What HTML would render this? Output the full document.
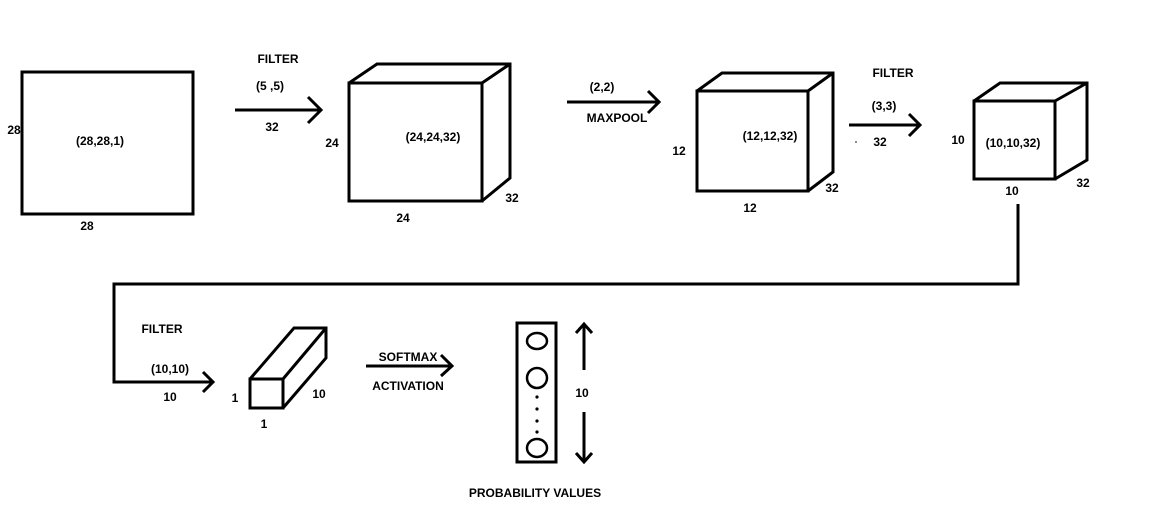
<!DOCTYPE html>
<html><head><style>
html,body{margin:0;padding:0;background:#fff;}
svg text{font-family:"Liberation Sans",Arial,sans-serif;font-weight:bold;font-size:12px;fill:#000;text-anchor:middle;}
</style></head><body>
<svg width="1158" height="525" viewBox="0 0 1158 525" xmlns="http://www.w3.org/2000/svg">
<g fill="none" stroke="#000" stroke-width="3" stroke-linejoin="miter">
<rect x="22" y="72" width="171" height="142"/>
<!-- cube1 -->
<rect x="349" y="83" width="133" height="118"/>
<polyline points="349,83 377,64 510,64 510,178 482,201"/>
<line x1="482" y1="83" x2="510" y2="64"/>
<!-- arrow1 -->
<line x1="235" y1="110" x2="321" y2="110"/>
<polyline points="308,97 321,110 308,123"/>
<!-- arrow2 -->
<line x1="567" y1="102" x2="659" y2="102"/>
<polyline points="648,91 659,102 648,113"/>
<!-- cube2 -->
<rect x="697" y="91" width="111" height="100"/>
<polyline points="697,91 722,73 833,73 833,172 808,191"/>
<line x1="808" y1="91" x2="833" y2="73"/>
<!-- arrow3 -->
<line x1="849" y1="125" x2="920" y2="125"/>
<polyline points="909,114 920,125 909,136"/>
<!-- cube3 -->
<rect x="974" y="101" width="81" height="78"/>
<polyline points="974,101 1000,83 1087,83 1087,160 1055,179"/>
<line x1="1055" y1="101" x2="1087" y2="83"/>
<!-- connector -->
<polyline points="1018,204 1018,284 114,284 114,382 213,382"/>
<polyline points="203,372 213,382 203,392"/>
<!-- small cuboid -->
<rect x="250" y="379" width="33" height="29"/>
<polyline points="250,379 294,328 326,328 326,358 283,408"/>
<line x1="283" y1="379" x2="326" y2="328"/>
<!-- arrow4 -->
<line x1="366" y1="366" x2="452" y2="366"/>
<polyline points="441,355 452,366 441,376"/>
<!-- column -->
<rect x="517" y="323" width="39" height="139"/>
<ellipse cx="537" cy="341" rx="10" ry="8" stroke-width="2.5"/>
<ellipse cx="537" cy="378" rx="10" ry="10" stroke-width="2.5"/>
<ellipse cx="537" cy="448" rx="10" ry="9" stroke-width="2.5"/>
<line x1="584" y1="370" x2="584" y2="324"/>
<polyline points="576,333 584,324 592,333"/>
<line x1="584" y1="412" x2="584" y2="462"/>
<polyline points="576,453 584,462 592,453"/>
</g>
<g fill="#000">
<circle cx="537" cy="397" r="1.6"/><circle cx="537" cy="409" r="1.6"/>
<circle cx="537" cy="421" r="1.6"/><circle cx="537" cy="432" r="1.6"/>
<circle cx="856" cy="142" r="0.8"/>
</g>
<text x="278" y="63">FILTER</text>
<text x="270" y="90">(5 ,5)</text>
<text x="272" y="131">32</text>
<text x="14" y="134">28</text>
<text x="100" y="145">(28,28,1)</text>
<text x="87" y="230">28</text>
<text x="332" y="147">24</text>
<text x="433" y="141">(24,24,32)</text>
<text x="403" y="222">24</text>
<text x="512" y="202">32</text>
<text x="602" y="91">(2,2)</text>
<text x="617" y="122">MAXPOOL</text>
<text x="679" y="155">12</text>
<text x="770" y="140">(12,12,32)</text>
<text x="750" y="212">12</text>
<text x="832" y="192">32</text>
<text x="893" y="77">FILTER</text>
<text x="884" y="110">(3,3)</text>
<text x="880" y="146">32</text>
<text x="958" y="144">10</text>
<text x="1013" y="147">(10,10,32)</text>
<text x="1012" y="195">10</text>
<text x="1083" y="187">32</text>
<text x="162" y="333">FILTER</text>
<text x="170" y="373">(10,10)</text>
<text x="170" y="401">10</text>
<text x="235" y="402">1</text>
<text x="319" y="398">10</text>
<text x="264" y="428">1</text>
<text x="408" y="361">SOFTMAX</text>
<text x="408" y="390">ACTIVATION</text>
<text x="582" y="397">10</text>
<text x="535" y="497">PROBABILITY VALUES</text>
</svg>
</body></html>
